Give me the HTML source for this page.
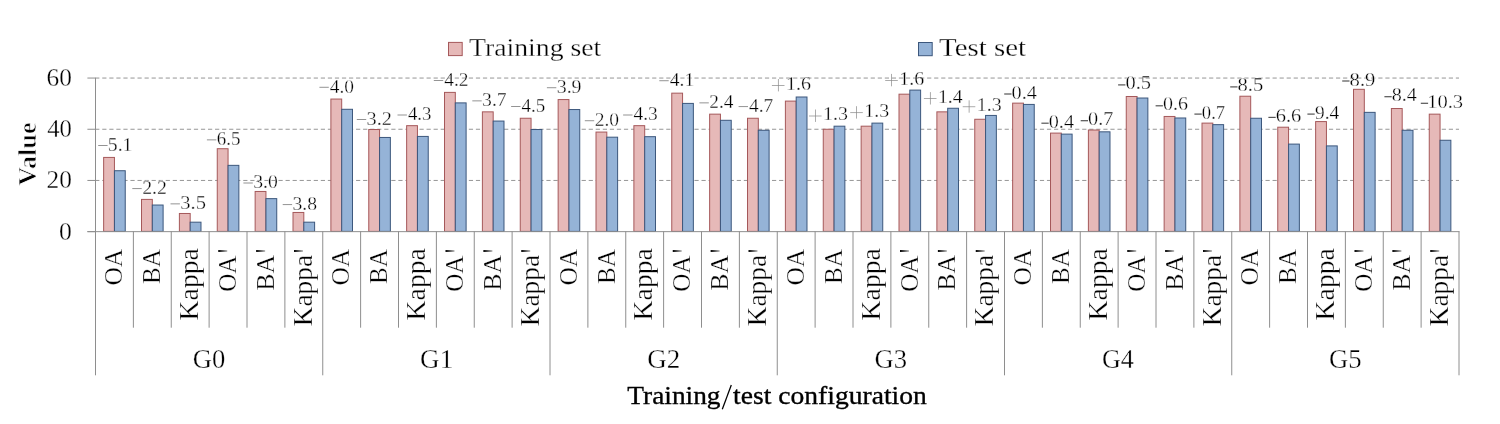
<!DOCTYPE html>
<html><head><meta charset="utf-8"><title>chart</title>
<style>html,body{margin:0;padding:0;background:#fff;width:1500px;height:424px;overflow:hidden}
text{font-family:"Liberation Serif",serif;stroke:#fff;stroke-width:0.3px}</style></head>
<body>
<svg width="1500" height="424" viewBox="0 0 1500 424" style="display:block;will-change:transform">
<rect x="0" y="0" width="1500" height="424" fill="#fff"/>
<g font-family="Liberation Serif, serif">
<line x1="95.20" y1="180.45" x2="1459.00" y2="180.45" stroke="#969696" stroke-width="1" stroke-dasharray="4.2 2.85"/>
<line x1="95.20" y1="129.25" x2="1459.00" y2="129.25" stroke="#969696" stroke-width="1" stroke-dasharray="4.2 2.85"/>
<line x1="95.20" y1="78.05" x2="1459.00" y2="78.05" stroke="#969696" stroke-width="1" stroke-dasharray="4.2 2.85"/>
<line x1="87.4" y1="231.65" x2="95.50" y2="231.65" stroke="#8e8e8e" stroke-width="1"/>
<line x1="87.4" y1="180.45" x2="95.50" y2="180.45" stroke="#8e8e8e" stroke-width="1"/>
<line x1="87.4" y1="129.25" x2="95.50" y2="129.25" stroke="#8e8e8e" stroke-width="1"/>
<line x1="87.4" y1="78.05" x2="95.50" y2="78.05" stroke="#8e8e8e" stroke-width="1"/>
<rect x="103.64" y="157.42" width="10.80" height="73.98" fill="#E6B9B8" stroke="#a5585a" stroke-width="1"/>
<rect x="114.44" y="170.73" width="10.80" height="60.67" fill="#95B3D7" stroke="#3c577c" stroke-width="1"/>
<rect x="141.51" y="199.40" width="10.80" height="32.00" fill="#E6B9B8" stroke="#a5585a" stroke-width="1"/>
<rect x="152.31" y="205.03" width="10.80" height="26.37" fill="#95B3D7" stroke="#3c577c" stroke-width="1"/>
<rect x="179.39" y="213.48" width="10.80" height="17.92" fill="#E6B9B8" stroke="#a5585a" stroke-width="1"/>
<rect x="190.19" y="222.18" width="10.80" height="9.22" fill="#95B3D7" stroke="#3c577c" stroke-width="1"/>
<rect x="217.26" y="148.71" width="10.80" height="82.69" fill="#E6B9B8" stroke="#a5585a" stroke-width="1"/>
<rect x="228.06" y="165.35" width="10.80" height="66.05" fill="#95B3D7" stroke="#3c577c" stroke-width="1"/>
<rect x="255.14" y="191.46" width="10.80" height="39.94" fill="#E6B9B8" stroke="#a5585a" stroke-width="1"/>
<rect x="265.94" y="198.63" width="10.80" height="32.77" fill="#95B3D7" stroke="#3c577c" stroke-width="1"/>
<rect x="293.01" y="212.46" width="10.80" height="18.94" fill="#E6B9B8" stroke="#a5585a" stroke-width="1"/>
<rect x="303.81" y="222.18" width="10.80" height="9.22" fill="#95B3D7" stroke="#3c577c" stroke-width="1"/>
<rect x="330.89" y="99.05" width="10.80" height="132.35" fill="#E6B9B8" stroke="#a5585a" stroke-width="1"/>
<rect x="341.69" y="109.29" width="10.80" height="122.11" fill="#95B3D7" stroke="#3c577c" stroke-width="1"/>
<rect x="368.76" y="129.51" width="10.80" height="101.89" fill="#E6B9B8" stroke="#a5585a" stroke-width="1"/>
<rect x="379.56" y="137.45" width="10.80" height="93.95" fill="#95B3D7" stroke="#3c577c" stroke-width="1"/>
<rect x="406.64" y="125.67" width="10.80" height="105.73" fill="#E6B9B8" stroke="#a5585a" stroke-width="1"/>
<rect x="417.44" y="136.42" width="10.80" height="94.98" fill="#95B3D7" stroke="#3c577c" stroke-width="1"/>
<rect x="444.51" y="92.39" width="10.80" height="139.01" fill="#E6B9B8" stroke="#a5585a" stroke-width="1"/>
<rect x="455.31" y="102.89" width="10.80" height="128.51" fill="#95B3D7" stroke="#3c577c" stroke-width="1"/>
<rect x="482.39" y="111.85" width="10.80" height="119.55" fill="#E6B9B8" stroke="#a5585a" stroke-width="1"/>
<rect x="493.19" y="121.06" width="10.80" height="110.34" fill="#95B3D7" stroke="#3c577c" stroke-width="1"/>
<rect x="520.26" y="118.25" width="10.80" height="113.15" fill="#E6B9B8" stroke="#a5585a" stroke-width="1"/>
<rect x="531.06" y="129.51" width="10.80" height="101.89" fill="#95B3D7" stroke="#3c577c" stroke-width="1"/>
<rect x="558.14" y="99.56" width="10.80" height="131.84" fill="#E6B9B8" stroke="#a5585a" stroke-width="1"/>
<rect x="568.94" y="109.54" width="10.80" height="121.86" fill="#95B3D7" stroke="#3c577c" stroke-width="1"/>
<rect x="596.01" y="132.07" width="10.80" height="99.33" fill="#E6B9B8" stroke="#a5585a" stroke-width="1"/>
<rect x="606.81" y="137.19" width="10.80" height="94.21" fill="#95B3D7" stroke="#3c577c" stroke-width="1"/>
<rect x="633.89" y="125.67" width="10.80" height="105.73" fill="#E6B9B8" stroke="#a5585a" stroke-width="1"/>
<rect x="644.69" y="136.68" width="10.80" height="94.72" fill="#95B3D7" stroke="#3c577c" stroke-width="1"/>
<rect x="671.76" y="93.16" width="10.80" height="138.24" fill="#E6B9B8" stroke="#a5585a" stroke-width="1"/>
<rect x="682.56" y="103.40" width="10.80" height="128.00" fill="#95B3D7" stroke="#3c577c" stroke-width="1"/>
<rect x="709.64" y="114.15" width="10.80" height="117.25" fill="#E6B9B8" stroke="#a5585a" stroke-width="1"/>
<rect x="720.44" y="120.30" width="10.80" height="111.10" fill="#95B3D7" stroke="#3c577c" stroke-width="1"/>
<rect x="747.51" y="118.25" width="10.80" height="113.15" fill="#E6B9B8" stroke="#a5585a" stroke-width="1"/>
<rect x="758.31" y="130.28" width="10.80" height="101.12" fill="#95B3D7" stroke="#3c577c" stroke-width="1"/>
<rect x="785.39" y="101.10" width="10.80" height="130.30" fill="#E6B9B8" stroke="#a5585a" stroke-width="1"/>
<rect x="796.19" y="97.00" width="10.80" height="134.40" fill="#95B3D7" stroke="#3c577c" stroke-width="1"/>
<rect x="823.26" y="129.26" width="10.80" height="102.14" fill="#E6B9B8" stroke="#a5585a" stroke-width="1"/>
<rect x="834.06" y="126.18" width="10.80" height="105.22" fill="#95B3D7" stroke="#3c577c" stroke-width="1"/>
<rect x="861.14" y="126.18" width="10.80" height="105.22" fill="#E6B9B8" stroke="#a5585a" stroke-width="1"/>
<rect x="871.94" y="123.11" width="10.80" height="108.29" fill="#95B3D7" stroke="#3c577c" stroke-width="1"/>
<rect x="899.01" y="94.18" width="10.80" height="137.22" fill="#E6B9B8" stroke="#a5585a" stroke-width="1"/>
<rect x="909.81" y="90.09" width="10.80" height="141.31" fill="#95B3D7" stroke="#3c577c" stroke-width="1"/>
<rect x="936.89" y="111.85" width="10.80" height="119.55" fill="#E6B9B8" stroke="#a5585a" stroke-width="1"/>
<rect x="947.69" y="108.26" width="10.80" height="123.14" fill="#95B3D7" stroke="#3c577c" stroke-width="1"/>
<rect x="974.76" y="119.27" width="10.80" height="112.13" fill="#E6B9B8" stroke="#a5585a" stroke-width="1"/>
<rect x="985.56" y="115.43" width="10.80" height="115.97" fill="#95B3D7" stroke="#3c577c" stroke-width="1"/>
<rect x="1012.64" y="103.14" width="10.80" height="128.26" fill="#E6B9B8" stroke="#a5585a" stroke-width="1"/>
<rect x="1023.44" y="104.42" width="10.80" height="126.98" fill="#95B3D7" stroke="#3c577c" stroke-width="1"/>
<rect x="1050.51" y="133.10" width="10.80" height="98.30" fill="#E6B9B8" stroke="#a5585a" stroke-width="1"/>
<rect x="1061.31" y="134.12" width="10.80" height="97.28" fill="#95B3D7" stroke="#3c577c" stroke-width="1"/>
<rect x="1088.39" y="130.02" width="10.80" height="101.38" fill="#E6B9B8" stroke="#a5585a" stroke-width="1"/>
<rect x="1099.19" y="131.82" width="10.80" height="99.58" fill="#95B3D7" stroke="#3c577c" stroke-width="1"/>
<rect x="1126.26" y="96.49" width="10.80" height="134.91" fill="#E6B9B8" stroke="#a5585a" stroke-width="1"/>
<rect x="1137.06" y="98.02" width="10.80" height="133.38" fill="#95B3D7" stroke="#3c577c" stroke-width="1"/>
<rect x="1164.14" y="116.46" width="10.80" height="114.94" fill="#E6B9B8" stroke="#a5585a" stroke-width="1"/>
<rect x="1174.94" y="117.99" width="10.80" height="113.41" fill="#95B3D7" stroke="#3c577c" stroke-width="1"/>
<rect x="1202.01" y="123.11" width="10.80" height="108.29" fill="#E6B9B8" stroke="#a5585a" stroke-width="1"/>
<rect x="1212.81" y="124.65" width="10.80" height="106.75" fill="#95B3D7" stroke="#3c577c" stroke-width="1"/>
<rect x="1239.89" y="96.23" width="10.80" height="135.17" fill="#E6B9B8" stroke="#a5585a" stroke-width="1"/>
<rect x="1250.69" y="118.25" width="10.80" height="113.15" fill="#95B3D7" stroke="#3c577c" stroke-width="1"/>
<rect x="1277.76" y="127.21" width="10.80" height="104.19" fill="#E6B9B8" stroke="#a5585a" stroke-width="1"/>
<rect x="1288.56" y="144.10" width="10.80" height="87.30" fill="#95B3D7" stroke="#3c577c" stroke-width="1"/>
<rect x="1315.64" y="121.58" width="10.80" height="109.82" fill="#E6B9B8" stroke="#a5585a" stroke-width="1"/>
<rect x="1326.44" y="145.90" width="10.80" height="85.50" fill="#95B3D7" stroke="#3c577c" stroke-width="1"/>
<rect x="1353.51" y="89.32" width="10.80" height="142.08" fill="#E6B9B8" stroke="#a5585a" stroke-width="1"/>
<rect x="1364.31" y="112.36" width="10.80" height="119.04" fill="#95B3D7" stroke="#3c577c" stroke-width="1"/>
<rect x="1391.39" y="108.52" width="10.80" height="122.88" fill="#E6B9B8" stroke="#a5585a" stroke-width="1"/>
<rect x="1402.19" y="130.28" width="10.80" height="101.12" fill="#95B3D7" stroke="#3c577c" stroke-width="1"/>
<rect x="1429.26" y="114.15" width="10.80" height="117.25" fill="#E6B9B8" stroke="#a5585a" stroke-width="1"/>
<rect x="1440.06" y="140.26" width="10.80" height="91.14" fill="#95B3D7" stroke="#3c577c" stroke-width="1"/>
<line x1="95.50" y1="77.80" x2="95.50" y2="326.90" stroke="#8e8e8e" stroke-width="1"/>
<line x1="87.4" y1="231.65" x2="1459.50" y2="231.65" stroke="#8e8e8e" stroke-width="1"/>
<line x1="133.38" y1="231.40" x2="133.38" y2="327.70" stroke="#8e8e8e" stroke-width="1"/>
<line x1="171.25" y1="231.40" x2="171.25" y2="327.70" stroke="#8e8e8e" stroke-width="1"/>
<line x1="209.12" y1="231.40" x2="209.12" y2="327.70" stroke="#8e8e8e" stroke-width="1"/>
<line x1="247.00" y1="231.40" x2="247.00" y2="327.70" stroke="#8e8e8e" stroke-width="1"/>
<line x1="284.88" y1="231.40" x2="284.88" y2="327.70" stroke="#8e8e8e" stroke-width="1"/>
<line x1="322.75" y1="231.40" x2="322.75" y2="375.30" stroke="#8e8e8e" stroke-width="1"/>
<line x1="360.62" y1="231.40" x2="360.62" y2="327.70" stroke="#8e8e8e" stroke-width="1"/>
<line x1="398.50" y1="231.40" x2="398.50" y2="327.70" stroke="#8e8e8e" stroke-width="1"/>
<line x1="436.38" y1="231.40" x2="436.38" y2="327.70" stroke="#8e8e8e" stroke-width="1"/>
<line x1="474.25" y1="231.40" x2="474.25" y2="327.70" stroke="#8e8e8e" stroke-width="1"/>
<line x1="512.12" y1="231.40" x2="512.12" y2="327.70" stroke="#8e8e8e" stroke-width="1"/>
<line x1="550.00" y1="231.40" x2="550.00" y2="375.30" stroke="#8e8e8e" stroke-width="1"/>
<line x1="587.88" y1="231.40" x2="587.88" y2="327.70" stroke="#8e8e8e" stroke-width="1"/>
<line x1="625.75" y1="231.40" x2="625.75" y2="327.70" stroke="#8e8e8e" stroke-width="1"/>
<line x1="663.62" y1="231.40" x2="663.62" y2="327.70" stroke="#8e8e8e" stroke-width="1"/>
<line x1="701.50" y1="231.40" x2="701.50" y2="327.70" stroke="#8e8e8e" stroke-width="1"/>
<line x1="739.38" y1="231.40" x2="739.38" y2="327.70" stroke="#8e8e8e" stroke-width="1"/>
<line x1="777.25" y1="231.40" x2="777.25" y2="375.30" stroke="#8e8e8e" stroke-width="1"/>
<line x1="815.12" y1="231.40" x2="815.12" y2="327.70" stroke="#8e8e8e" stroke-width="1"/>
<line x1="853.00" y1="231.40" x2="853.00" y2="327.70" stroke="#8e8e8e" stroke-width="1"/>
<line x1="890.88" y1="231.40" x2="890.88" y2="327.70" stroke="#8e8e8e" stroke-width="1"/>
<line x1="928.75" y1="231.40" x2="928.75" y2="327.70" stroke="#8e8e8e" stroke-width="1"/>
<line x1="966.62" y1="231.40" x2="966.62" y2="327.70" stroke="#8e8e8e" stroke-width="1"/>
<line x1="1004.50" y1="231.40" x2="1004.50" y2="375.30" stroke="#8e8e8e" stroke-width="1"/>
<line x1="1042.38" y1="231.40" x2="1042.38" y2="327.70" stroke="#8e8e8e" stroke-width="1"/>
<line x1="1080.25" y1="231.40" x2="1080.25" y2="327.70" stroke="#8e8e8e" stroke-width="1"/>
<line x1="1118.12" y1="231.40" x2="1118.12" y2="327.70" stroke="#8e8e8e" stroke-width="1"/>
<line x1="1156.00" y1="231.40" x2="1156.00" y2="327.70" stroke="#8e8e8e" stroke-width="1"/>
<line x1="1193.88" y1="231.40" x2="1193.88" y2="327.70" stroke="#8e8e8e" stroke-width="1"/>
<line x1="1231.75" y1="231.40" x2="1231.75" y2="375.30" stroke="#8e8e8e" stroke-width="1"/>
<line x1="1269.62" y1="231.40" x2="1269.62" y2="327.70" stroke="#8e8e8e" stroke-width="1"/>
<line x1="1307.50" y1="231.40" x2="1307.50" y2="327.70" stroke="#8e8e8e" stroke-width="1"/>
<line x1="1345.38" y1="231.40" x2="1345.38" y2="327.70" stroke="#8e8e8e" stroke-width="1"/>
<line x1="1383.25" y1="231.40" x2="1383.25" y2="327.70" stroke="#8e8e8e" stroke-width="1"/>
<line x1="1421.12" y1="231.40" x2="1421.12" y2="327.70" stroke="#8e8e8e" stroke-width="1"/>
<line x1="1459.00" y1="231.40" x2="1459.00" y2="375.30" stroke="#8e8e8e" stroke-width="1"/>
<line x1="95.50" y1="231.40" x2="95.50" y2="375.3" stroke="#8e8e8e" stroke-width="1"/>
<text x="59.07" y="239.60" font-size="25.04" font-weight="normal" textLength="12.86" lengthAdjust="spacingAndGlyphs" fill="#000">0</text>
<text x="46.56" y="188.40" font-size="25.04" font-weight="normal" textLength="25.36" lengthAdjust="spacingAndGlyphs" fill="#000">20</text>
<text x="47.21" y="137.20" font-size="25.04" font-weight="normal" textLength="24.68" lengthAdjust="spacingAndGlyphs" fill="#000">40</text>
<text x="46.56" y="86.00" font-size="25.04" font-weight="normal" textLength="25.36" lengthAdjust="spacingAndGlyphs" fill="#000">60</text>
<rect x="448.5" y="42.4" width="13.7" height="13.2" fill="#E6B9B8" stroke="#a5585a" stroke-width="1"/>
<rect x="918.5" y="42.5" width="13.7" height="13.2" fill="#95B3D7" stroke="#3c577c" stroke-width="1"/>
<text x="469.05" y="55.80" font-size="25.91" font-weight="normal" textLength="132.20" lengthAdjust="spacingAndGlyphs" fill="#000">Training set</text>
<text x="939.02" y="56.00" font-size="25.80" font-weight="normal" textLength="87.00" lengthAdjust="spacingAndGlyphs" fill="#000">Test set</text>
<text transform="translate(36.20,185.66) rotate(-90)" style="stroke-width:0.75px" font-size="25.76" font-weight="bold" textLength="63.27" lengthAdjust="spacingAndGlyphs">Value</text>
<text transform="translate(122.24,285.62) rotate(-90)" font-size="26.06" font-weight="normal" textLength="36.76" lengthAdjust="spacingAndGlyphs">OA</text>
<text transform="translate(160.11,283.95) rotate(-90)" font-size="26.06" font-weight="normal" textLength="34.88" lengthAdjust="spacingAndGlyphs">BA</text>
<text transform="translate(197.99,320.43) rotate(-90)" font-size="26.26" font-weight="normal" textLength="72.34" lengthAdjust="spacingAndGlyphs">Kappa</text>
<text transform="translate(235.86,291.70) rotate(-90)" font-size="26.06" font-weight="normal" textLength="36.14" lengthAdjust="spacingAndGlyphs">OA</text>
<path d="M218.26,250.00 L227.26,250.70 L227.26,251.30 L218.26,252.00 Z" fill="#000"/>
<text transform="translate(273.74,290.78) rotate(-90)" font-size="26.06" font-weight="normal" textLength="35.91" lengthAdjust="spacingAndGlyphs">BA</text>
<path d="M256.14,250.00 L265.14,250.70 L265.14,251.30 L256.14,252.00 Z" fill="#000"/>
<text transform="translate(311.61,326.32) rotate(-90)" font-size="26.26" font-weight="normal" textLength="71.43" lengthAdjust="spacingAndGlyphs">Kappa</text>
<path d="M294.01,250.00 L303.01,250.70 L303.01,251.30 L294.01,252.00 Z" fill="#000"/>
<text transform="translate(349.49,285.62) rotate(-90)" font-size="26.06" font-weight="normal" textLength="36.76" lengthAdjust="spacingAndGlyphs">OA</text>
<text transform="translate(387.36,283.95) rotate(-90)" font-size="26.06" font-weight="normal" textLength="34.88" lengthAdjust="spacingAndGlyphs">BA</text>
<text transform="translate(425.24,320.43) rotate(-90)" font-size="26.26" font-weight="normal" textLength="72.34" lengthAdjust="spacingAndGlyphs">Kappa</text>
<text transform="translate(463.11,291.70) rotate(-90)" font-size="26.06" font-weight="normal" textLength="36.14" lengthAdjust="spacingAndGlyphs">OA</text>
<path d="M445.51,250.00 L454.51,250.70 L454.51,251.30 L445.51,252.00 Z" fill="#000"/>
<text transform="translate(500.99,290.78) rotate(-90)" font-size="26.06" font-weight="normal" textLength="35.91" lengthAdjust="spacingAndGlyphs">BA</text>
<path d="M483.39,250.00 L492.39,250.70 L492.39,251.30 L483.39,252.00 Z" fill="#000"/>
<text transform="translate(538.86,326.32) rotate(-90)" font-size="26.26" font-weight="normal" textLength="71.43" lengthAdjust="spacingAndGlyphs">Kappa</text>
<path d="M521.26,250.00 L530.26,250.70 L530.26,251.30 L521.26,252.00 Z" fill="#000"/>
<text transform="translate(576.74,285.62) rotate(-90)" font-size="26.06" font-weight="normal" textLength="36.76" lengthAdjust="spacingAndGlyphs">OA</text>
<text transform="translate(614.61,283.95) rotate(-90)" font-size="26.06" font-weight="normal" textLength="34.88" lengthAdjust="spacingAndGlyphs">BA</text>
<text transform="translate(652.49,320.43) rotate(-90)" font-size="26.26" font-weight="normal" textLength="72.34" lengthAdjust="spacingAndGlyphs">Kappa</text>
<text transform="translate(690.36,291.70) rotate(-90)" font-size="26.06" font-weight="normal" textLength="36.14" lengthAdjust="spacingAndGlyphs">OA</text>
<path d="M672.76,250.00 L681.76,250.70 L681.76,251.30 L672.76,252.00 Z" fill="#000"/>
<text transform="translate(728.24,290.78) rotate(-90)" font-size="26.06" font-weight="normal" textLength="35.91" lengthAdjust="spacingAndGlyphs">BA</text>
<path d="M710.64,250.00 L719.64,250.70 L719.64,251.30 L710.64,252.00 Z" fill="#000"/>
<text transform="translate(766.11,326.32) rotate(-90)" font-size="26.26" font-weight="normal" textLength="71.43" lengthAdjust="spacingAndGlyphs">Kappa</text>
<path d="M748.51,250.00 L757.51,250.70 L757.51,251.30 L748.51,252.00 Z" fill="#000"/>
<text transform="translate(803.99,285.62) rotate(-90)" font-size="26.06" font-weight="normal" textLength="36.76" lengthAdjust="spacingAndGlyphs">OA</text>
<text transform="translate(841.86,283.95) rotate(-90)" font-size="26.06" font-weight="normal" textLength="34.88" lengthAdjust="spacingAndGlyphs">BA</text>
<text transform="translate(879.74,320.43) rotate(-90)" font-size="26.26" font-weight="normal" textLength="72.34" lengthAdjust="spacingAndGlyphs">Kappa</text>
<text transform="translate(917.61,291.70) rotate(-90)" font-size="26.06" font-weight="normal" textLength="36.14" lengthAdjust="spacingAndGlyphs">OA</text>
<path d="M900.01,250.00 L909.01,250.70 L909.01,251.30 L900.01,252.00 Z" fill="#000"/>
<text transform="translate(955.49,290.78) rotate(-90)" font-size="26.06" font-weight="normal" textLength="35.91" lengthAdjust="spacingAndGlyphs">BA</text>
<path d="M937.89,250.00 L946.89,250.70 L946.89,251.30 L937.89,252.00 Z" fill="#000"/>
<text transform="translate(993.36,326.32) rotate(-90)" font-size="26.26" font-weight="normal" textLength="71.43" lengthAdjust="spacingAndGlyphs">Kappa</text>
<path d="M975.76,250.00 L984.76,250.70 L984.76,251.30 L975.76,252.00 Z" fill="#000"/>
<text transform="translate(1031.24,285.62) rotate(-90)" font-size="26.06" font-weight="normal" textLength="36.76" lengthAdjust="spacingAndGlyphs">OA</text>
<text transform="translate(1069.11,283.95) rotate(-90)" font-size="26.06" font-weight="normal" textLength="34.88" lengthAdjust="spacingAndGlyphs">BA</text>
<text transform="translate(1106.99,320.43) rotate(-90)" font-size="26.26" font-weight="normal" textLength="72.34" lengthAdjust="spacingAndGlyphs">Kappa</text>
<text transform="translate(1144.86,291.70) rotate(-90)" font-size="26.06" font-weight="normal" textLength="36.14" lengthAdjust="spacingAndGlyphs">OA</text>
<path d="M1127.26,250.00 L1136.26,250.70 L1136.26,251.30 L1127.26,252.00 Z" fill="#000"/>
<text transform="translate(1182.74,290.78) rotate(-90)" font-size="26.06" font-weight="normal" textLength="35.91" lengthAdjust="spacingAndGlyphs">BA</text>
<path d="M1165.14,250.00 L1174.14,250.70 L1174.14,251.30 L1165.14,252.00 Z" fill="#000"/>
<text transform="translate(1220.61,326.32) rotate(-90)" font-size="26.26" font-weight="normal" textLength="71.43" lengthAdjust="spacingAndGlyphs">Kappa</text>
<path d="M1203.01,250.00 L1212.01,250.70 L1212.01,251.30 L1203.01,252.00 Z" fill="#000"/>
<text transform="translate(1258.49,285.62) rotate(-90)" font-size="26.06" font-weight="normal" textLength="36.76" lengthAdjust="spacingAndGlyphs">OA</text>
<text transform="translate(1296.36,283.95) rotate(-90)" font-size="26.06" font-weight="normal" textLength="34.88" lengthAdjust="spacingAndGlyphs">BA</text>
<text transform="translate(1334.24,320.43) rotate(-90)" font-size="26.26" font-weight="normal" textLength="72.34" lengthAdjust="spacingAndGlyphs">Kappa</text>
<text transform="translate(1372.11,291.70) rotate(-90)" font-size="26.06" font-weight="normal" textLength="36.14" lengthAdjust="spacingAndGlyphs">OA</text>
<path d="M1354.51,250.00 L1363.51,250.70 L1363.51,251.30 L1354.51,252.00 Z" fill="#000"/>
<text transform="translate(1409.99,290.78) rotate(-90)" font-size="26.06" font-weight="normal" textLength="35.91" lengthAdjust="spacingAndGlyphs">BA</text>
<path d="M1392.39,250.00 L1401.39,250.70 L1401.39,251.30 L1392.39,252.00 Z" fill="#000"/>
<text transform="translate(1447.86,326.32) rotate(-90)" font-size="26.26" font-weight="normal" textLength="71.43" lengthAdjust="spacingAndGlyphs">Kappa</text>
<path d="M1430.26,250.00 L1439.26,250.70 L1439.26,251.30 L1430.26,252.00 Z" fill="#000"/>
<text x="192.86" y="368.00" font-size="26.77" font-weight="normal" textLength="32.59" lengthAdjust="spacingAndGlyphs" fill="#000">G0</text>
<text x="420.09" y="368.00" font-size="26.97" font-weight="normal" textLength="33.17" lengthAdjust="spacingAndGlyphs" fill="#000">G1</text>
<text x="647.34" y="368.00" font-size="26.97" font-weight="normal" textLength="33.03" lengthAdjust="spacingAndGlyphs" fill="#000">G2</text>
<text x="874.61" y="368.00" font-size="26.97" font-weight="normal" textLength="32.59" lengthAdjust="spacingAndGlyphs" fill="#000">G3</text>
<text x="1101.88" y="368.00" font-size="26.97" font-weight="normal" textLength="31.89" lengthAdjust="spacingAndGlyphs" fill="#000">G4</text>
<text x="1329.11" y="368.00" font-size="26.97" font-weight="normal" textLength="32.59" lengthAdjust="spacingAndGlyphs" fill="#000">G5</text>
<text style="stroke:#000;stroke-width:0.35px" x="627.35" y="403.70" font-size="26.11" font-weight="normal" textLength="93.14" lengthAdjust="spacingAndGlyphs" fill="#000">Training</text>
<line x1="731.3" y1="385.0" x2="722.3" y2="409.2" stroke="#000" stroke-width="1.25"/>
<text style="stroke:#000;stroke-width:0.35px" x="733.12" y="403.70" font-size="26.11" font-weight="normal" textLength="193.71" lengthAdjust="spacingAndGlyphs" fill="#000">test configuration</text>
<rect x="98.20" y="145.15" width="9.4" height="0.7" fill="#666"/>
<text x="107.82" y="150.80" font-size="19.09" font-weight="normal" textLength="24.67" lengthAdjust="spacingAndGlyphs" fill="#000">5.1</text>
<rect x="132.30" y="188.35" width="9.4" height="0.7" fill="#666"/>
<text x="142.21" y="194.00" font-size="19.09" font-weight="normal" textLength="24.78" lengthAdjust="spacingAndGlyphs" fill="#000">2.2</text>
<rect x="170.50" y="203.55" width="9.4" height="0.7" fill="#666"/>
<text x="180.27" y="209.20" font-size="19.09" font-weight="normal" textLength="25.65" lengthAdjust="spacingAndGlyphs" fill="#000">3.5</text>
<rect x="206.90" y="139.55" width="9.4" height="0.7" fill="#666"/>
<text x="216.85" y="145.20" font-size="19.09" font-weight="normal" textLength="23.71" lengthAdjust="spacingAndGlyphs" fill="#000">6.5</text>
<rect x="243.40" y="182.65" width="9.4" height="0.7" fill="#666"/>
<text x="253.22" y="188.30" font-size="18.95" font-weight="normal" textLength="24.57" lengthAdjust="spacingAndGlyphs" fill="#000">3.0</text>
<rect x="282.70" y="204.35" width="9.4" height="0.7" fill="#666"/>
<text x="292.52" y="210.00" font-size="18.95" font-weight="normal" textLength="24.57" lengthAdjust="spacingAndGlyphs" fill="#000">3.8</text>
<rect x="319.40" y="86.85" width="9.4" height="0.7" fill="#666"/>
<text x="329.81" y="92.50" font-size="18.95" font-weight="normal" textLength="24.26" lengthAdjust="spacingAndGlyphs" fill="#000">4.0</text>
<rect x="356.80" y="119.15" width="9.4" height="0.7" fill="#666"/>
<text x="366.59" y="124.80" font-size="19.09" font-weight="normal" textLength="25.33" lengthAdjust="spacingAndGlyphs" fill="#000">3.2</text>
<rect x="397.50" y="114.65" width="9.4" height="0.7" fill="#666"/>
<text x="407.92" y="120.30" font-size="19.09" font-weight="normal" textLength="23.53" lengthAdjust="spacingAndGlyphs" fill="#000">4.3</text>
<rect x="433.80" y="80.25" width="9.4" height="0.7" fill="#666"/>
<text x="444.21" y="85.90" font-size="19.09" font-weight="normal" textLength="24.26" lengthAdjust="spacingAndGlyphs" fill="#000">4.2</text>
<rect x="472.30" y="100.55" width="9.4" height="0.7" fill="#666"/>
<text x="482.12" y="106.20" font-size="19.09" font-weight="normal" textLength="24.57" lengthAdjust="spacingAndGlyphs" fill="#000">3.7</text>
<rect x="511.10" y="106.05" width="9.4" height="0.7" fill="#666"/>
<text x="521.52" y="111.70" font-size="19.09" font-weight="normal" textLength="23.74" lengthAdjust="spacingAndGlyphs" fill="#000">4.5</text>
<rect x="546.90" y="87.45" width="9.4" height="0.7" fill="#666"/>
<text x="556.70" y="93.10" font-size="19.09" font-weight="normal" textLength="24.89" lengthAdjust="spacingAndGlyphs" fill="#000">3.9</text>
<rect x="584.80" y="120.45" width="9.4" height="0.7" fill="#666"/>
<text x="594.72" y="126.10" font-size="18.95" font-weight="normal" textLength="24.36" lengthAdjust="spacingAndGlyphs" fill="#000">2.0</text>
<rect x="623.10" y="114.65" width="9.4" height="0.7" fill="#666"/>
<text x="633.51" y="120.30" font-size="19.09" font-weight="normal" textLength="24.26" lengthAdjust="spacingAndGlyphs" fill="#000">4.3</text>
<rect x="659.30" y="80.45" width="9.4" height="0.7" fill="#666"/>
<text x="669.71" y="86.10" font-size="19.09" font-weight="normal" textLength="24.57" lengthAdjust="spacingAndGlyphs" fill="#000">4.1</text>
<rect x="699.40" y="102.55" width="9.4" height="0.7" fill="#666"/>
<text x="709.33" y="108.20" font-size="19.09" font-weight="normal" textLength="24.16" lengthAdjust="spacingAndGlyphs" fill="#000">2.4</text>
<rect x="738.60" y="106.35" width="9.4" height="0.7" fill="#666"/>
<text x="749.01" y="112.00" font-size="19.09" font-weight="normal" textLength="24.37" lengthAdjust="spacingAndGlyphs" fill="#000">4.7</text>
<rect x="771.90" y="85.15" width="12.6" height="0.7" fill="#888"/>
<rect x="777.95" y="79.00" width="0.7" height="12.4" fill="#888"/>
<text x="785.90" y="89.80" font-size="19.09" font-weight="normal" textLength="25.00" lengthAdjust="spacingAndGlyphs" fill="#000">1.6</text>
<rect x="809.00" y="115.65" width="12.6" height="0.7" fill="#888"/>
<rect x="815.05" y="109.50" width="0.7" height="12.4" fill="#888"/>
<text x="823.01" y="120.30" font-size="19.09" font-weight="normal" textLength="24.89" lengthAdjust="spacingAndGlyphs" fill="#000">1.3</text>
<rect x="850.20" y="112.35" width="12.6" height="0.7" fill="#888"/>
<rect x="856.25" y="106.20" width="0.7" height="12.4" fill="#888"/>
<text x="864.21" y="117.00" font-size="19.09" font-weight="normal" textLength="24.89" lengthAdjust="spacingAndGlyphs" fill="#000">1.3</text>
<rect x="885.20" y="80.05" width="12.6" height="0.7" fill="#888"/>
<rect x="891.25" y="73.90" width="0.7" height="12.4" fill="#888"/>
<text x="899.21" y="84.70" font-size="19.09" font-weight="normal" textLength="24.89" lengthAdjust="spacingAndGlyphs" fill="#000">1.6</text>
<rect x="923.90" y="98.25" width="12.6" height="0.7" fill="#888"/>
<rect x="929.95" y="92.10" width="0.7" height="12.4" fill="#888"/>
<text x="937.92" y="102.90" font-size="19.09" font-weight="normal" textLength="24.67" lengthAdjust="spacingAndGlyphs" fill="#000">1.4</text>
<rect x="962.70" y="106.45" width="12.6" height="0.7" fill="#888"/>
<rect x="968.75" y="100.30" width="0.7" height="12.4" fill="#888"/>
<text x="976.71" y="111.10" font-size="19.09" font-weight="normal" textLength="24.89" lengthAdjust="spacingAndGlyphs" fill="#000">1.3</text>
<rect x="1004.20" y="93.40" width="7.3" height="1.2" fill="#555"/>
<text x="1011.59" y="98.50" font-size="18.95" font-weight="normal" textLength="25.31" lengthAdjust="spacingAndGlyphs" fill="#000">0.4</text>
<rect x="1041.40" y="122.60" width="7.3" height="1.2" fill="#555"/>
<text x="1048.79" y="127.70" font-size="18.95" font-weight="normal" textLength="25.21" lengthAdjust="spacingAndGlyphs" fill="#000">0.4</text>
<rect x="1080.70" y="120.10" width="7.3" height="1.2" fill="#555"/>
<text x="1088.09" y="125.20" font-size="18.95" font-weight="normal" textLength="25.32" lengthAdjust="spacingAndGlyphs" fill="#000">0.7</text>
<rect x="1118.10" y="84.30" width="7.3" height="1.2" fill="#555"/>
<text x="1125.48" y="89.40" font-size="18.95" font-weight="normal" textLength="25.53" lengthAdjust="spacingAndGlyphs" fill="#000">0.5</text>
<rect x="1155.60" y="105.20" width="7.3" height="1.2" fill="#555"/>
<text x="1163.00" y="110.30" font-size="18.95" font-weight="normal" textLength="25.00" lengthAdjust="spacingAndGlyphs" fill="#000">0.6</text>
<rect x="1194.40" y="113.50" width="7.3" height="1.2" fill="#555"/>
<text x="1201.86" y="118.60" font-size="18.95" font-weight="normal" textLength="23.20" lengthAdjust="spacingAndGlyphs" fill="#000">0.7</text>
<rect x="1230.20" y="86.30" width="7.3" height="1.2" fill="#555"/>
<text x="1237.58" y="91.40" font-size="18.95" font-weight="normal" textLength="25.64" lengthAdjust="spacingAndGlyphs" fill="#000">8.5</text>
<rect x="1268.40" y="116.80" width="7.3" height="1.2" fill="#555"/>
<text x="1275.68" y="121.90" font-size="19.09" font-weight="normal" textLength="25.64" lengthAdjust="spacingAndGlyphs" fill="#000">6.6</text>
<rect x="1307.40" y="113.50" width="7.3" height="1.2" fill="#555"/>
<text x="1315.02" y="118.60" font-size="19.09" font-weight="normal" textLength="24.27" lengthAdjust="spacingAndGlyphs" fill="#000">9.4</text>
<rect x="1342.20" y="80.40" width="7.3" height="1.2" fill="#555"/>
<text x="1349.58" y="85.50" font-size="18.95" font-weight="normal" textLength="25.75" lengthAdjust="spacingAndGlyphs" fill="#000">8.9</text>
<rect x="1384.40" y="96.10" width="7.3" height="1.2" fill="#555"/>
<text x="1391.80" y="101.20" font-size="18.95" font-weight="normal" textLength="25.10" lengthAdjust="spacingAndGlyphs" fill="#000">8.4</text>
<rect x="1420.80" y="102.70" width="7.3" height="1.2" fill="#555"/>
<text x="1427.15" y="107.80" font-size="18.95" font-weight="normal" textLength="35.97" lengthAdjust="spacingAndGlyphs" fill="#000">10.3</text>
</g></svg>
</body></html>
